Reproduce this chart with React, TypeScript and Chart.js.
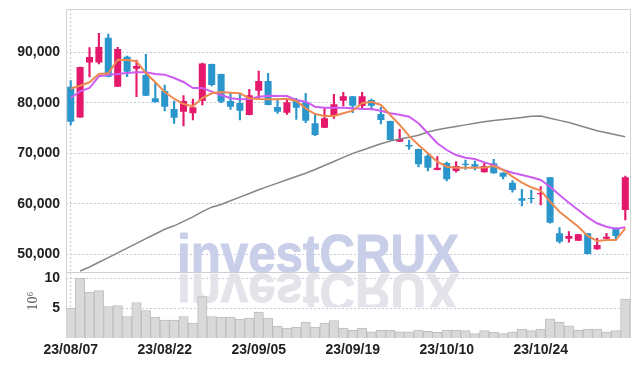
import React, { useEffect, useRef } from 'react';
import { Chart, registerables } from 'chart.js';
Chart.register(...registerables);

const dates = [
  '23/08/07','23/08/08','23/08/09','23/08/10','23/08/11','23/08/14','23/08/16','23/08/17','23/08/18','23/08/21',
  '23/08/22','23/08/23','23/08/24','23/08/25','23/08/28','23/08/29','23/08/30','23/08/31','23/09/01','23/09/04',
  '23/09/05','23/09/06','23/09/07','23/09/08','23/09/11','23/09/12','23/09/13','23/09/14','23/09/15','23/09/18',
  '23/09/19','23/09/20','23/09/21','23/09/22','23/09/25','23/09/26','23/09/27','23/10/04','23/10/05','23/10/06',
  '23/10/10','23/10/11','23/10/12','23/10/13','23/10/16','23/10/17','23/10/18','23/10/19','23/10/20','23/10/23',
  '23/10/24','23/10/25','23/10/26','23/10/27','23/10/30','23/10/31','23/11/01','23/11/02','23/11/03','23/11/06',
];

const opens = [
  83190, 77090, 87980, 87980, 92890, 83190, 89130, 86750, 85510, 80890,
  82340, 78770, 78240, 77920, 80360, 87680, 85700, 80360, 79960, 77590,
  82400, 84320, 79170, 78040, 80560, 80100, 75940, 75070, 77590, 80420,
  81290, 79370, 80560, 77780, 76400, 72300, 71650, 70850, 69530, 66700,
  68080, 66500, 67940, 67820, 66240, 68020, 66160, 64180, 61090, 61150,
  61880, 65250, 54160, 53090, 52700, 54160, 50990, 53090, 55070, 58780,
];
const highs = [
  84380, 87090, 90910, 93760, 93620, 90990, 89270, 88480, 89600, 83860,
  83530, 80360, 81410, 80750, 87880, 87680, 85700, 81880, 81680, 82670,
  86300, 85840, 80890, 80690, 80890, 81880, 77920, 78970, 81680, 82080,
  81290, 82080, 80760, 79110, 76400, 74750, 72640, 70850, 70000, 69330,
  68280, 68340, 68680, 68480, 68220, 68810, 66160, 64580, 62870, 62740,
  63390, 65250, 55270, 54480, 53960, 54160, 53170, 54160, 55270, 65510,
];
const lows = [
  75600, 77090, 85110, 87680, 85110, 83190, 85170, 81210, 81410, 80100,
  78380, 75940, 75410, 76600, 79570, 83330, 80020, 78710, 76600, 77590,
  80890, 79570, 77920, 77720, 76730, 76060, 73490, 75070, 76930, 79370,
  78040, 78710, 78580, 75800, 72640, 72300, 70790, 67290, 66500, 66700,
  64520, 66240, 66830, 66700, 66240, 66040, 64910, 62280, 59570, 60220,
  59770, 56140, 52180, 52380, 52700, 50070, 50990, 52700, 52830, 56790,
];
const closes = [
  76260, 87090, 89070, 91050, 85170, 90650, 86160, 87290, 81410, 80100,
  79230, 77050, 80360, 79110, 87780, 83530, 80220, 79230, 78440, 81490,
  84320, 79570, 78240, 80100, 79030, 76460, 73630, 76930, 79700, 81290,
  79430, 81290, 79430, 76600, 72640, 72830, 71350, 67820, 67150, 67150,
  64850, 67490, 67690, 67350, 67490, 66040, 65370, 62740, 60620, 60950,
  62140, 56260, 52500, 53630, 53960, 50070, 51840, 53490, 53630, 65250,
];
const volumes = [
  5.0, 10.0, 7.67, 7.93, 5.27, 5.43, 3.6, 5.93, 4.6, 3.5,
  3.0, 3.0, 3.6, 2.5, 6.93, 3.6, 3.5, 3.5, 3.17, 3.33,
  4.33, 3.33, 2.0, 1.67, 1.83, 2.67, 1.83, 2.5, 2.93, 1.67,
  1.27, 1.67, 1.05, 1.27, 1.27, 1.05, 1.05, 1.33, 1.1, 0.93,
  1.33, 1.27, 1.22, 0.72, 1.22, 0.93, 0.72, 1.0, 1.5, 1.22,
  1.5, 3.22, 2.6, 2.05, 1.27, 1.5, 1.5, 1.05, 1.22, 6.5,
];
const ma5 = [
  82800, 83390, 84060, 85700, 85840, 88540, 88480, 88220, 85900, 84060,
  82140, 80810, 79760, 79310, 80950, 81880, 82140, 82000, 81880, 80890,
  80750, 80690, 80690, 80810, 80360, 78910, 77780, 77390, 77390, 77920,
  78440, 79900, 80220, 79570, 77590, 75610, 73450, 71650, 70000, 68340,
  67350, 67150, 67150, 67150, 67200, 67490, 66700, 65370, 64180, 63270,
  62600, 60420, 58440, 56930, 55470, 53630, 52640, 52830, 52830, 55150,
];
const ma20 = [
  80950, 82280, 82930, 85250, 85570, 85700, 85900, 86040, 86040, 85700,
  85570, 84910, 84120, 82930, 82950, 82200, 81550, 80890, 80690, 80750,
  81210, 81410, 81350, 81350, 80560, 80220, 79230, 79030, 79030, 79030,
  78910, 78770, 78770, 78440, 77920, 77650, 77250, 75940, 73960, 71980,
  70650, 69660, 69130, 68870, 68200, 67690, 66700, 66160, 65710, 65250,
  64720, 63390, 61750, 60220, 58780, 57310, 56140, 55470, 55070, 55350,
];
const ma120 = [
  null, 46700, 47490, 48420, 49350, 50280, 51210, 52160, 53090, 54020,
  54950, 55640, 56530, 57400, 58460, 59330, 59870, 60600, 61330, 62040,
  62770, 63450, 64100, 64750, 65410, 66060, 66790, 67590, 68380, 69190,
  69980, 70610, 71250, 71880, 72440, 72810, 73190, 73570, 74220, 74660,
  74990, 75310, 75630, 75940, 76260, 76480, 76670, 76890, 77110, 77350,
  77390, 76930, 76520, 76100, 75570, 75010, 74480, 74080, 73690, 73290,
];
const priceTicks = [50000, 60000, 70000, 80000, 90000];
const volumeTicks = [5, 10];
const labelEvery = 10;

const UP = '#e5196b';
const DOWN = '#2b96cb';
const GRID = '#c6cadb';
const TICK_FONT = { family: '"Liberation Sans", sans-serif', size: 14, weight: 'bold' as const };

const decor = {
  id: 'decor',
  beforeDatasetsDraw(chart: any) {
    const { ctx } = chart;
    const yP = chart.scales.y;
    const text = 'investCRUX';
    ctx.save();
    ctx.font = 'bold 54px "Liberation Sans", sans-serif';
    const w = ctx.measureText(text).width;
    const sx = 282 / w;
    const baseX = 177;
    const baseY = yP.bottom;
    ctx.save();
    ctx.translate(baseX, baseY);
    ctx.scale(sx, 1);
    ctx.fillStyle = '#c9cfe9';
    ctx.strokeStyle = '#c9cfe9';
    ctx.lineWidth = 1;
    ctx.lineJoin = 'round';
    ctx.fillText(text, 0, 0);
    ctx.strokeText(text, 0, 0);
    ctx.restore();
    ctx.save();
    ctx.beginPath();
    ctx.rect(0, baseY + 1, chart.width, 34);
    ctx.clip();
    ctx.translate(baseX, baseY + 2);
    ctx.scale(sx, -1);
    ctx.fillStyle = '#e3e3ea';
    ctx.strokeStyle = '#e3e3ea';
    ctx.lineWidth = 1;
    ctx.fillText(text, 0, 0);
    ctx.strokeText(text, 0, 0);
    ctx.restore();
    ctx.restore();
  },
  afterDraw(chart: any) {
    const { ctx, chartArea } = chart;
    const yP = chart.scales.y;
    ctx.save();
    ctx.lineWidth = 1;
    ctx.strokeStyle = '#d2d2d2';
    ctx.beginPath();
    ctx.moveTo(chartArea.left + 0.5, chartArea.bottom);
    ctx.lineTo(chartArea.left + 0.5, chartArea.top + 0.5);
    ctx.lineTo(chartArea.right + 0.5, chartArea.top + 0.5);
    ctx.lineTo(chartArea.right + 0.5, chartArea.bottom);
    ctx.stroke();
    ctx.strokeStyle = '#cfcfcf';
    ctx.beginPath();
    ctx.moveTo(chartArea.left, Math.round(yP.bottom) + 0.5);
    ctx.lineTo(chartArea.right, Math.round(yP.bottom) + 0.5);
    ctx.stroke();
    ctx.translate(33, 301);
    ctx.rotate(-Math.PI / 2);
    ctx.fillStyle = '#555';
    ctx.font = '14px "Liberation Serif", serif';
    ctx.textAlign = 'center';
    ctx.textBaseline = 'middle';
    ctx.fillText('10\u2076', 0, 0);
    ctx.restore();
  },
};

export default function App() {
  const ref = useRef<HTMLCanvasElement>(null);
  useEffect(() => {
    const colors = opens.map((o, i) => (closes[i] >= o ? UP : DOWN));
    const noPad = (s: any) => { s.paddingTop = 0; s.paddingBottom = 0; s.paddingLeft = 0; s.paddingRight = 0; };
    const chart = new Chart(ref.current as HTMLCanvasElement, {
      type: 'bar',
      data: {
        labels: dates,
        datasets: [
          { type: 'line', data: ma5, borderColor: '#ee8a50', borderWidth: 2, pointRadius: 0, yAxisID: 'y', order: 0 } as any,
          { type: 'line', data: ma20, borderColor: '#cd5cf0', borderWidth: 2, pointRadius: 0, yAxisID: 'y', order: 0 } as any,
          { type: 'line', data: ma120, borderColor: '#858585', borderWidth: 1.5, pointRadius: 0, yAxisID: 'y', order: 0 } as any,
          { type: 'bar', data: opens.map((o, i) => [o, closes[i]]), backgroundColor: colors, barPercentage: 0.75, categoryPercentage: 1, grouped: false, yAxisID: 'y', order: 2 } as any,
          { type: 'bar', data: lows.map((l, i) => [l, highs[i]]), backgroundColor: colors, barThickness: 1.5, grouped: false, yAxisID: 'y', order: 3 } as any,
          { type: 'bar', data: volumes, backgroundColor: '#d9d9d9', borderColor: '#bdbdbd', borderWidth: 1, barPercentage: 1, categoryPercentage: 1, grouped: false, yAxisID: 'y2', order: 4 } as any,
        ],
      },
      options: {
        responsive: true,
        maintainAspectRatio: false,
        animation: false,
        events: [],
        layout: { padding: { top: 9, right: 9, left: 0, bottom: 0 } },
        plugins: { legend: { display: false }, tooltip: { enabled: false } },
        scales: {
          x: {
            type: 'category',
            offset: true,
            grid: {
              offset: false,
              drawTicks: false,
              color: (c: any) => (c.index % labelEvery === 0 ? GRID : 'rgba(0,0,0,0)'),
            },
            border: { display: false, dash: [2, 2] },
            ticks: {
              autoSkip: false,
              maxRotation: 0,
              padding: 4,
              color: '#222',
              font: { ...TICK_FONT, size: 14 },
              callback: (_v: any, i: number) => (i % labelEvery === 0 ? dates[i] : null),
            },
            afterFit: (s: any) => { s.height = 28; noPad(s); },
          },
          y: {
            position: 'left',
            stack: 'main',
            stackWeight: 4,
            weight: 2,
            min: 46455,
            max: 98574,
            afterBuildTicks: (s: any) => { s.ticks = priceTicks.map((v) => ({ value: v })); },
            grid: { drawTicks: false, color: GRID },
            border: { display: false, dash: [2, 2] },
            ticks: {
              padding: 6,
              color: '#222',
              font: TICK_FONT,
              callback: (v: any) => Number(v).toLocaleString('en-US'),
            },
            afterFit: (s: any) => { s.width = 66; noPad(s); },
          },
          y2: {
            position: 'left',
            stack: 'main',
            stackWeight: 1,
            weight: 1,
            min: 0,
            max: 11,
            afterBuildTicks: (s: any) => { s.ticks = volumeTicks.map((v) => ({ value: v })); },
            grid: { drawTicks: false, color: GRID },
            border: { display: false, dash: [2, 2] },
            ticks: {
              padding: 6,
              color: '#222',
              font: TICK_FONT,
              callback: (v: any) => String(v),
            },
            afterFit: (s: any) => { s.width = 66; noPad(s); },
          },
        },
      } as any,
      plugins: [decor],
    });
    return () => chart.destroy();
  }, []);
  return (
    <div style={{ position: 'fixed', left: 0, top: 0, width: 639, height: 366, background: '#fff' }}>
      <canvas ref={ref} />
    </div>
  );
}
